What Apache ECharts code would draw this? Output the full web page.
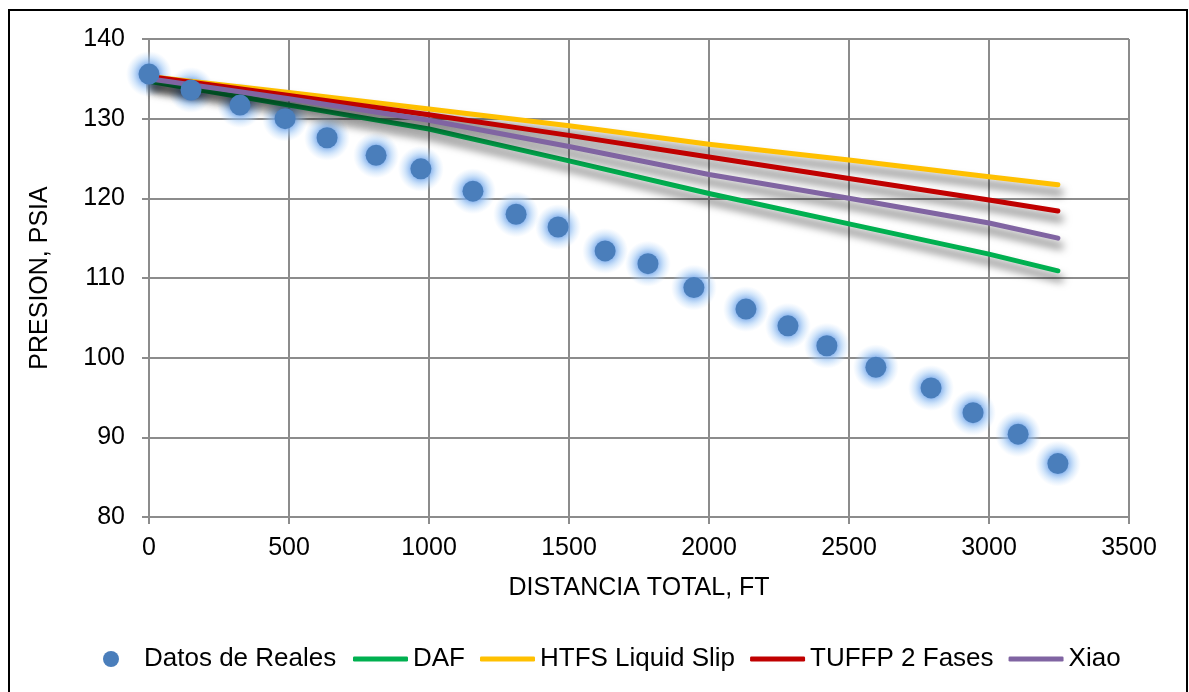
<!DOCTYPE html>
<html>
<head>
<meta charset="utf-8">
<script src="https://cdn.jsdelivr.net/npm/echarts@6/dist/echarts.min.js"></script>
<style>
html,body{margin:0;padding:0;background:#fff;}
#chart{width:1189px;height:692px;}
</style>
</head>
<body>
<div id="chart"></div>
<script>
// Measured data (distance in ft, pressure in psia)
const realDist = [0,150,325,486,636,811,971,1157,1311,1461,1629,1782,1946,2132,2282,2421,2596,2793,2943,3104,3246];
const realPres = [135.6,133.6,131.7,130.0,127.6,125.4,123.7,120.9,118.0,116.4,113.4,111.8,108.8,106.1,104.0,101.5,98.8,96.2,93.1,90.4,86.7];

const modelDist = [0,500,1000,1500,2000,2500,3000,3246];
const dafPres   = [134.7,131.7,128.7,124.7,120.6,116.8,113.0,110.9];
const htfsPres  = [135.3,133.3,131.2,129.1,126.8,124.8,122.7,121.7];
const tuffpPres = [135.3,132.9,130.5,127.9,125.2,122.5,119.8,118.4];
const xiaoPres  = [135.0,132.5,129.8,126.5,123.0,120.0,116.9,115.0];

const xTicks = {min:0, max:3500, interval:500};
const yTicks = {min:80, max:140, interval:10};

const seriesNames = ['Datos de Reales','DAF','HTFS Liquid Slip','TUFFP 2 Fases','Xiao'];
const lineColors = ['#00B050','#FFC000','#C00000','#8064A2'];

function pairs(xs, ys){ return xs.map((x,i)=>[x, ys[i]]); }

const FONT = '"Liberation Sans", Arial, sans-serif';
const FS = 25;
const LFS = 26;
const gridColor = '#8c8c8c';

const lineSeries = [dafPres, htfsPres, tuffpPres, xiaoPres].map((arr, i) => ({
  name: seriesNames[i+1],
  type: 'line',
  data: pairs(modelDist, arr),
  showSymbol: false,
  symbol: 'none',
  z: 2,
  lineStyle: {
    color: lineColors[i], width: 5, cap: 'round', join: 'round',
    shadowColor: 'rgba(0,0,0,0.6)', shadowBlur: 9, shadowOffsetX: 3, shadowOffsetY: 8
  },
  itemStyle: {color: lineColors[i]},
  emphasis: {disabled: true},
  animation: false
}));

const glow = new echarts.graphic.RadialGradient(0.5, 0.5, 0.5, [
  {offset: 0, color: 'rgba(120,170,235,0.85)'},
  {offset: 0.45, color: 'rgba(120,170,235,0.8)'},
  {offset: 0.7, color: 'rgba(155,198,245,0.45)'},
  {offset: 1, color: 'rgba(185,215,250,0)'}
]);

const chart = echarts.init(document.getElementById('chart'), null, {renderer:'canvas'});
chart.setOption({
  animation: false,
  backgroundColor: '#fff',
  textStyle: {fontFamily: FONT},
  graphic: [{
    type: 'rect', silent: true, z: 0,
    shape: {x: 9, y: 10, width: 1178, height: 700},
    style: {fill: 'none', stroke: '#000', lineWidth: 2}
  }],
  grid: {left: 149, right: 60, top: 39, bottom: 175, containLabel: false},
  xAxis: {
    type: 'value', min: xTicks.min, max: xTicks.max, interval: xTicks.interval,
    name: 'DISTANCIA TOTAL, FT', nameLocation: 'middle', nameGap: 59,
    nameTextStyle: {color: '#000', fontSize: FS, fontFamily: FONT},
    axisLine: {show: true, lineStyle: {color: gridColor, width: 2}},
    axisTick: {show: true, length: 7, lineStyle: {color: gridColor, width: 2}},
    axisLabel: {color: '#000', fontSize: FS, fontFamily: FONT, margin: 19, formatter: v => String(v)},
    splitLine: {show: true, lineStyle: {color: gridColor, width: 2}}
  },
  yAxis: {
    type: 'value', min: yTicks.min, max: yTicks.max, interval: yTicks.interval,
    name: 'PRESION, PSIA', nameLocation: 'middle', nameGap: 96, nameRotate: 90,
    nameTextStyle: {color: '#000', fontSize: FS, fontFamily: FONT},
    axisLine: {show: true, lineStyle: {color: gridColor, width: 2}},
    axisTick: {show: true, length: 7, lineStyle: {color: gridColor, width: 2}},
    axisLabel: {color: '#000', fontSize: FS, fontFamily: FONT, margin: 24, formatter: v => String(v)},
    splitLine: {show: true, lineStyle: {color: gridColor, width: 2}}
  },
  legend: [{
    data: [seriesNames[0]],
    left: 98, top: 641,
    icon: 'circle', itemWidth: 16, itemHeight: 16,
    itemStyle: {shadowBlur: 0, shadowColor: 'transparent', opacity: 1},
    textStyle: {color: '#000', fontSize: LFS, fontFamily: FONT, padding: [0, 0, 0, 20]},
    selectedMode: false
  },{
    data: seriesNames.slice(1),
    left: 348, top: 641,
    icon: 'roundRect', itemWidth: 55, itemHeight: 5, itemGap: 15,
    itemStyle: {shadowBlur: 0, shadowColor: 'transparent'},
    lineStyle: {shadowBlur: 0, shadowColor: 'transparent'},
    textStyle: {color: '#000', fontSize: LFS, fontFamily: FONT},
    selectedMode: false
  }],
  series: [{
    name: 'glow',
    type: 'scatter',
    data: pairs(realDist, realPres),
    symbol: 'circle',
    symbolSize: 46,
    z: 1,
    silent: true,
    itemStyle: {color: glow, opacity: 1},
    emphasis: {disabled: true}
  },{
    name: seriesNames[0],
    type: 'scatter',
    data: pairs(realDist, realPres),
    symbol: 'circle',
    symbolSize: 21,
    z: 3,
    itemStyle: {color: '#4A7EBB', opacity: 1},
    emphasis: {disabled: true}
  }].concat(lineSeries)
});
</script>
</body>
</html>
